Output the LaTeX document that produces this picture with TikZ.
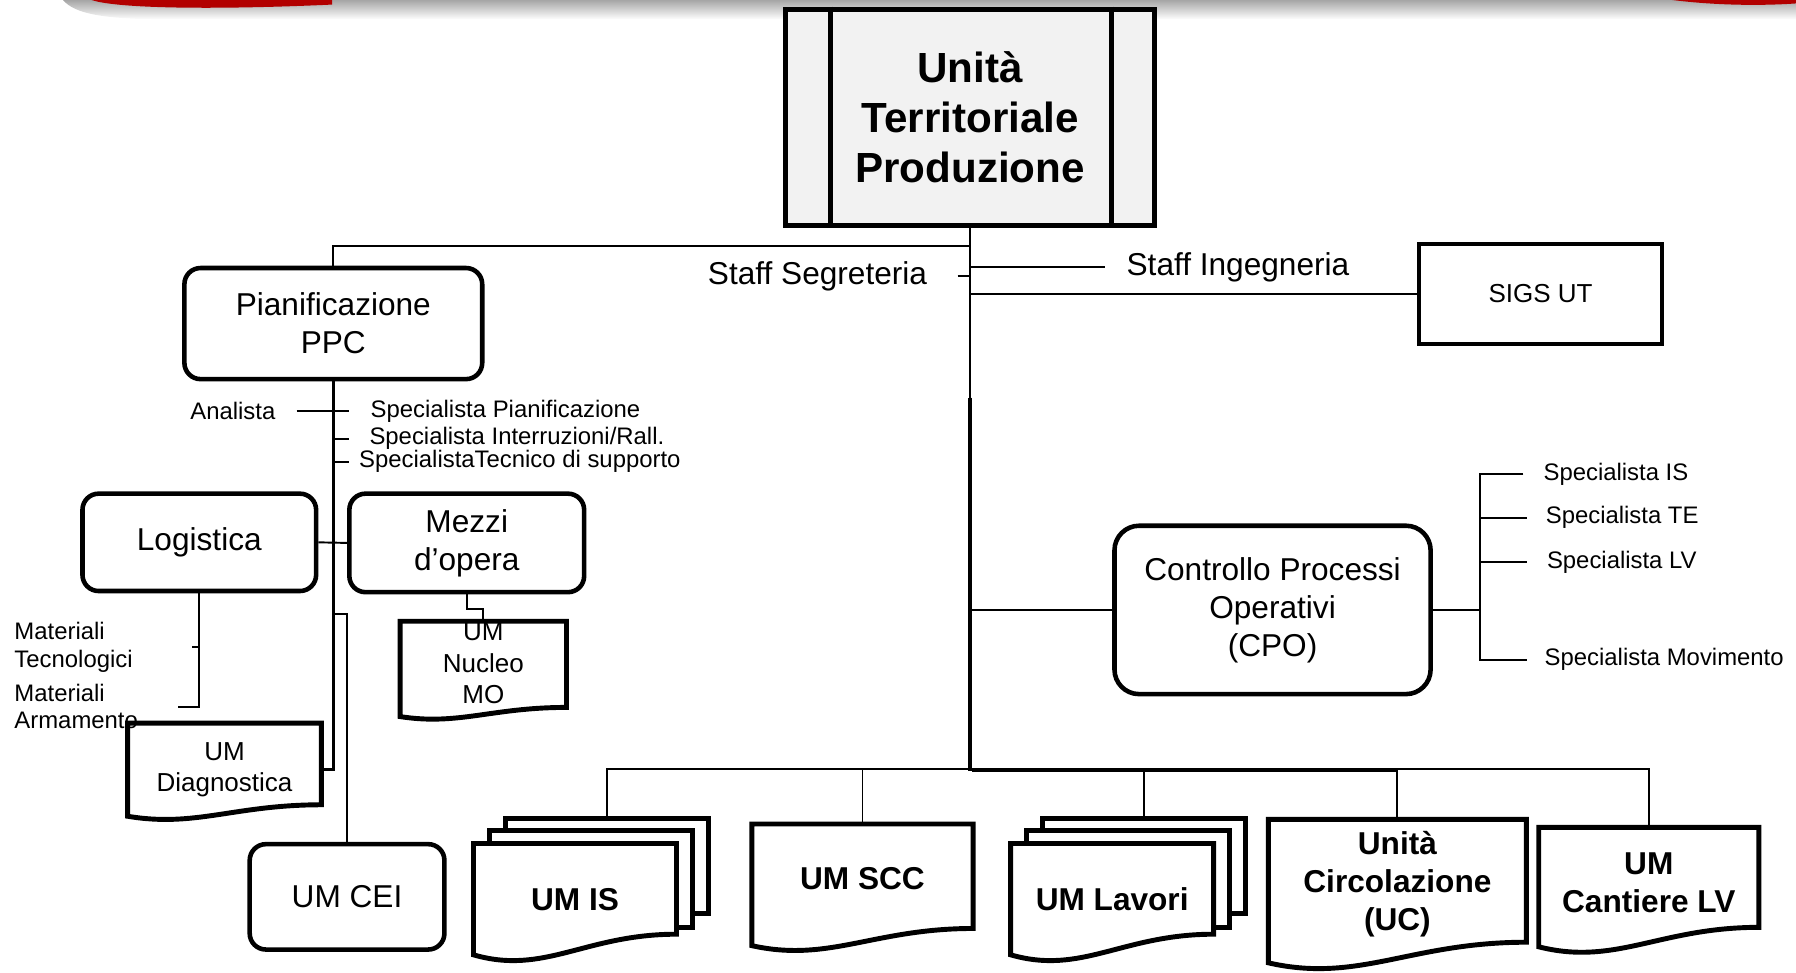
\documentclass[tikz,border=0pt]{standalone}
\usepackage{fontspec}
\setmainfont{Liberation Sans}
\usetikzlibrary{calc,positioning}
\pgfdeclarelayer{bg}
\pgfsetlayers{bg,main}
\newdimen\upx
\upx=0.011454cm

% document shape behind a node, wavy bottom edge (#1 extra depth below the node)
\newcommand{\docshape}[3][0]{%
  \begin{pgfonlayer}{bg}
    \draw[docline] ($(#2.south west)+(0,#1)$) -- (#2.north west) -- (#2.north east)
      -- ($(#2.south east)+(0,#1-#3)$)
      .. controls ($(#2.south west)!0.55!(#2.south east)+(0,#1-#3)$)
      and ($(#2.south west)!0.35!(#2.south east)+(0,#1+#3)$) .. ($(#2.south west)+(0,#1)$) -- cycle;
  \end{pgfonlayer}}
% two stacked copies behind a document node
\newcommand{\stackshape}[1]{%
  \begin{pgfonlayer}{bg}
    \draw[docline] ($(#1.north west)+(28,-22)$) rectangle ($(#1.south east)+(28,-36)$);
    \draw[docline] ($(#1.north west)+(14,-11)$) rectangle ($(#1.south east)+(14,-24)$);
  \end{pgfonlayer}}

\begin{document}
\begin{tikzpicture}[x=0.011454cm, y=-0.011454cm,
  every node/.style={inner sep=0pt},
  sz/.style 2 args={minimum width=#1*\upx, minimum height=#2*\upx},
  topbox/.style={draw, line width=1.4pt, fill=black!5, align=center,
    font=\fontsize{12}{14.3}\selectfont\bfseries},
  rbox/.style={draw, line width=1.3pt, rounded corners=4.6pt, align=center,
    font=\fontsize{9}{10.8}\selectfont},
  sqbox/.style={draw, line width=1.2pt, font=\fontsize{7.4}{9}\selectfont},
  midtext/.style={font=\fontsize{9}{10.8}\selectfont},
  small/.style={font=\fontsize{6.8}{7.8}\selectfont},
  docsmall/.style={align=center, font=\fontsize{7.4}{9}\selectfont},
  docbold/.style={align=center, font=\fontsize{9}{10.9}\selectfont\bfseries},
  docline/.style={line width=1.4pt, fill=white},
  link/.style={line width=0.55pt}]
  \useasboundingbox (0,0) rectangle (1568,849);
  % slide banner
  \shade[top color=black!35, bottom color=white] (55,0) .. controls (65,12) and (90,17) .. (150,17)
    -- (1568,17) -- (1568,0) -- cycle;
  \fill[red!70!black] (80,0) .. controls (100,7) and (180,9) .. (290,4) -- (290,0) -- cycle;
  \fill[red!70!black] (1460,0) .. controls (1500,5) and (1540,5) .. (1568,3) -- (1568,0) -- cycle;

  % top unit
  \node[topbox, sz={322}{189}] (utp) at (847,102.5) {Unità\\Territoriale\\Produzione};
  \draw[line width=1.3pt] ([xshift=41*\upx]utp.north west) -- ([xshift=41*\upx]utp.south west);
  \draw[line width=1.3pt] ([xshift=-40*\upx]utp.north east) -- ([xshift=-40*\upx]utp.south east);

  % staff
  \node[midtext, anchor=east] (sseg) at (810,241) {Staff Segreteria};
  \node[midtext, anchor=west] (sing) at (983,233) {Staff Ingegneria};
  \node[sqbox, sz={212}{87}] (sigs) at (1345,256.5) {SIGS UT};

  % planning
  \node[rbox, sz={260}{97}] (ppc) at (291,282.5) {Pianificazione\\PPC};
  \node[small, anchor=east] (analista) at (241,359) {Analista};
  \node[small, anchor=west] (splan) at (323,359) {Specialista Pianificazione};
  \node[small, anchor=west] (sint) at (322,383) {Specialista Interruzioni/Rall.};
  \node[small, anchor=west] (stec) at (313,403) {SpecialistaTecnico di supporto};

  % logistics and vehicles
  \node[rbox, sz={204}{85}] (logi) at (174,473.5) {Logistica};
  \node[rbox, sz={205}{86}] (mezzi) at (407.5,474) {Mezzi\\d’opera};
  \node[small, anchor=west, align=left] (mattec) at (12,565) {Materiali\\Tecnologici};
  \node[small, anchor=west, align=left] (matarm) at (12,617) {Materiali\\Armamento};
  \node[docsmall, sz={144}{72}] (nucleo) at (422,579) {UM\\Nucleo\\MO};
  \node[docsmall, sz={168}{80}] (umdiag) at (196,672) {UM\\Diagnostica};
  \node[rbox, sz={170}{92}] (cei) at (303,783) {UM CEI};

  % process control
  \node[rbox, rounded corners=7pt, sz={276}{147}] (cpo) at (1111,532.5)
    {Controllo Processi\\Operativi\\(CPO)};
  \node[small, anchor=west] (spis) at (1347,414) {Specialista IS};
  \node[small, anchor=west] (spte) at (1349,452) {Specialista TE};
  \node[small, anchor=west] (splv) at (1350,491) {Specialista LV};
  \node[small, anchor=west] (spmov) at (1348,576) {Specialista Movimento};

  % production units
  \node[docbold, sz={176}{96}] (umis) at (502,785) {UM IS};
  \node[docbold, sz={192}{95}] (umscc) at (753,767.5) {UM SCC};
  \node[docbold, sz={176}{96}] (umlav) at (971,785) {UM Lavori};
  \node[docbold, sz={224}{112}] (uc) at (1220,772) {Unità\\Circolazione\\(UC)};
  \node[docbold, sz={191}{95}] (umclv) at (1439.5,770.5) {UM\\Cantiere LV};

  \docshape[10]{nucleo}{8}
  \docshape{umdiag}{10}
  \stackshape{umis}\docshape{umis}{18}
  \docshape[10]{umscc}{15}
  \stackshape{umlav}\docshape{umlav}{18}
  \docshape[12]{uc}{18}
  \docshape[8]{umclv}{17}

  % trunk and staff links
  \coordinate (jppc) at ($(utp.south)+(0,16)$);
  \coordinate (tsplit) at ($(utp.south)+(0,148)$);
  \coordinate (bus) at ($(utp.south)+(0,472)$);
  \coordinate (bus2) at ($(bus)+(2,2)$);
  \draw[line width=0.7pt] (utp.south) -- (bus);
  \draw[line width=1.1pt] (tsplit) -- (bus2 -| tsplit);
  \draw[link] (jppc) -| (ppc.north);
  \draw[link] ([xshift=26*\upx]sseg.east) -- (sseg.east -| utp.south);
  \draw[link] (sing.west -| utp.south) -- ([xshift=-18*\upx]sing.west);
  \draw[link] (sigs.west -| utp.south) -- (sigs.west);
  \draw[link] (cpo.west -| utp.south) -- (cpo.west);

  % planning links
  \draw[line width=0.7pt] (ppc.south) |- (umdiag.east);
  \draw[link] ([xshift=18*\upx]analista.east) -- ++(46,0);
  \foreach \s in {sint,stec}
    \draw[link] (\s.west -| ppc.south) -- ++(14,0);
  \draw[link] (logi.east) -- (mezzi.west);
  \draw[link] (logi.south) -- (logi.south |- matarm.east) -- ++(-19,0);
  \draw[link] (logi.south |- mattec.east) -- ++(-6,0);
  \draw[link] (mezzi.south) -- ++(0,13) -| (nucleo.north);
  \draw[link] ($(ppc.south)+(0,203)$) -| (cei.north);

  % process control links
  \coordinate (cpob) at ($(cpo.east)+(41,0)$);
  \draw[link] (cpo.east) -- (cpob);
  \draw[line width=0.7pt] ([xshift=-17*\upx]spis.west) -| (cpob |- spmov.west)
    -- ([xshift=-15*\upx]spmov.west);
  \foreach \s/\g in {spte/16, splv/17}
    \draw[link] (\s.west -| cpob) -- ([xshift=-\g*\upx]\s.west);

  % bus to production units
  \draw[link] (bus2) -- (bus2 -| uc.north);
  \draw[link] (bus) -| ($(umis.north)+(28,-22)$);
  \draw[link] (bus) -| (umscc.north);
  \draw[link] (bus) -| ($(umlav.north)+(28,-22)$);
  \draw[link] (bus) -| (uc.north);
  \draw[link] (bus) -| (umclv.north);
\end{tikzpicture}
\end{document}
